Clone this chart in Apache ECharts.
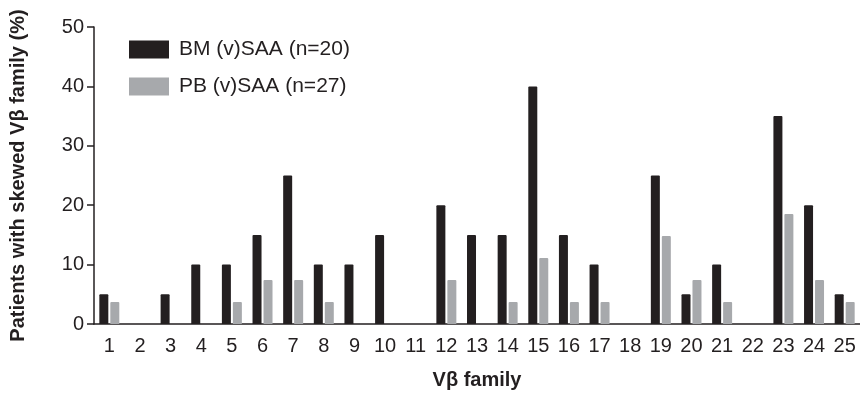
<!DOCTYPE html>
<html><head><meta charset="utf-8">
<script src="https://cdn.jsdelivr.net/npm/echarts@6/dist/echarts.min.js"></script>
<style>html,body{margin:0;padding:0;background:#fff}#c{width:860px;height:395px}</style>
</head><body><div id="c"></div>
<script>
const categories = ['1','2','3','4','5','6','7','8','9','10','11','12','13','14','15','16','17','18','19','20','21','22','23','24','25'];
const bmValues = [5,0,5,10,10,15,25,10,10,15,0,20,15,15,40,15,10,0,25,5,10,0,35,20,5];
const pbValues = [3.7,0,0,0,3.7,7.4,7.4,3.7,0,0,0,7.4,0,3.7,11.1,3.7,3.7,0,14.8,7.4,3.7,0,18.5,7.4,3.7];
const yTicks = [0,10,20,30,40,50];

const chart = echarts.init(document.getElementById('c'), null, {renderer:'canvas'});
const txt = '#231f20';
chart.setOption({
  animation:false,
  textStyle:{fontFamily:'Liberation Sans, Arial, sans-serif'},
  grid:{left:90,right:-3,top:27,bottom:66,containLabel:false},
  legend:{
    orient:'vertical',left:124,top:34,itemWidth:40,itemHeight:18,itemGap:16,
    icon:'rect',
    textStyle:{fontSize:21,color:txt,padding:[0,0,0,5]},
    data:['BM (v)SAA (n=20)','PB (v)SAA (n=27)']
  },
  xAxis:{
    type:'category',data:categories,
    name:'Vβ family',nameLocation:'middle',nameGap:46,
    nameTextStyle:{fontSize:20,fontWeight:'bold',color:txt},
    axisLine:{lineStyle:{color:txt,width:1.5}},
    axisTick:{alignWithLabel:true,length:7,lineStyle:{color:txt,width:1.5}},
    axisLabel:{fontSize:20,color:txt,margin:12}
  },
  yAxis:{
    type:'value',min:0,max:50,interval:10,
    name:'Patients with skewed Vβ family (%)',nameLocation:'middle',nameGap:66,
    nameTextStyle:{fontSize:20,fontWeight:'bold',color:txt},
    axisLine:{show:true,lineStyle:{color:txt,width:1.5}},
    axisTick:{show:true,length:7,lineStyle:{color:txt,width:1.5}},
    axisLabel:{fontSize:20,color:txt,margin:10,formatter:v=>yTicks.includes(v)?String(v):''},
    splitLine:{show:false}
  },
  series:[
    {name:'BM (v)SAA (n=20)',type:'bar',data:bmValues,barWidth:9,barGap:'22%',
     itemStyle:{color:'#231f20',borderRadius:[1,1,0,0]}},
    {name:'PB (v)SAA (n=27)',type:'bar',data:pbValues,barWidth:9,
     itemStyle:{color:'#a7a9ac',borderRadius:[1,1,0,0]}}
  ]
});
</script></body></html>
